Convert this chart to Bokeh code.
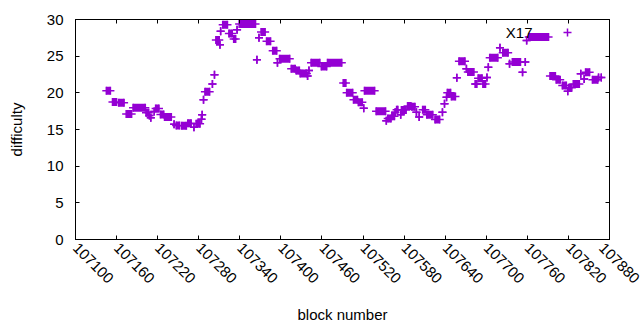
import math
from bokeh.plotting import figure
from bokeh.models import (Range1d, FixedTicker, LinearAxis, Legend, LegendItem, Label,
                          ColumnDataSource, BasicTickFormatter, CustomJSTickFormatter)
from bokeh.embed import file_html
from bokeh.resources import INLINE

# ---------------- data (runs of equal difficulty over consecutive blocks) ----------
run_start = [107145, 107154, 107163, 107174, 107184, 107203, 107208, 107210, 107215, 107217,
             107224, 107230, 107244, 107247, 107255, 107264, 107273, 107276, 107284, 107285,
             107287, 107289, 107300, 107303, 107305, 107311, 107312, 107315, 107324, 107331,
             107336, 107339, 107365, 107368, 107371, 107379, 107388, 107395, 107398, 107415,
             107422, 107428, 107439, 107441, 107444, 107459, 107468, 107491, 107496, 107506,
             107513, 107521, 107522, 107539, 107554, 107556, 107562, 107567, 107569, 107575,
             107576, 107585, 107591, 107598, 107602, 107607, 107613, 107625, 107636, 107639,
             107642, 107643, 107649, 107657, 107660, 107671, 107673, 107684, 107686, 107688,
             107695, 107701, 107703, 107705, 107720, 107724, 107734, 107738, 107753, 107757,
             107759, 107762, 107793, 107802, 107811, 107819, 107820, 107827, 107838, 107843,
             107845, 107855, 107864, 107868]
run_end = [107151, 107160, 107171, 107182, 107202, 107207, 107208, 107210, 107215, 107222,
           107229, 107240, 107244, 107252, 107262, 107269, 107273, 107282, 107284, 107285,
           107287, 107296, 107300, 107303, 107310, 107311, 107312, 107322, 107329, 107334,
           107336, 107363, 107365, 107368, 107377, 107385, 107394, 107395, 107413, 107421,
           107427, 107438, 107439, 107441, 107457, 107467, 107489, 107495, 107505, 107512,
           107519, 107521, 107537, 107553, 107554, 107561, 107566, 107567, 107571, 107575,
           107583, 107590, 107596, 107598, 107602, 107611, 107622, 107632, 107636, 107639,
           107642, 107648, 107655, 107657, 107669, 107671, 107682, 107684, 107686, 107694,
           107699, 107701, 107703, 107717, 107720, 107732, 107734, 107750, 107753, 107757,
           107759, 107791, 107801, 107808, 107817, 107819, 107825, 107836, 107838, 107843,
           107851, 107863, 107864, 107868]
run_difficulty = [20.3, 18.75, 18.65, 17.1, 17.95, 17.3, 16.9, 16.6, 17.45, 17.85,
                  17.05, 16.7, 15.7, 15.55, 15.5, 15.85, 15.3, 15.8, 16.4, 17.0,
                  19.05, 20.15, 21.2, 22.45, 27.2, 26.55, 28.4, 29.3, 28.1, 27.35,
                  28.6, 29.4, 24.5, 27.5, 28.3, 27.05, 25.75, 24.1, 24.65, 23.3,
                  23.05, 22.65, 22.3, 23.05, 24.1, 23.6, 24.1, 21.35, 20.0, 19.05,
                  18.7, 17.9, 20.3, 17.5, 16.2, 16.5, 16.8, 17.35, 17.7, 17.0,
                  17.65, 18.2, 18.1, 17.35, 16.7, 17.7, 17.0, 16.35, 17.35, 18.5,
                  19.4, 20.0, 19.5, 22.05, 24.3, 23.3, 22.85, 21.2, 21.2, 22.0,
                  21.2, 22.1, 23.5, 24.8, 26.15, 25.45, 23.95, 24.2, 22.8, 24.2,
                  27.15, 27.6, 22.3, 21.8, 21.0, 20.2, 20.7, 21.2, 22.6, 21.9,
                  22.8, 21.8, 22.1, 22.1]

series_name = "X17"
x_ticks = [107100, 107160, 107220, 107280, 107340, 107400, 107460,
           107520, 107580, 107640, 107700, 107760, 107820, 107880]
y_ticks = [0, 5, 10, 15, 20, 25, 30]
x_label = "block number"
y_label = "difficulty"

# ---------------- styling ----------------
COLOR = "#9400d3"
FONT = "Liberation Sans"
FS = "15px"

src = ColumnDataSource(dict(start=run_start, end=run_end, d=run_difficulty))

p = figure(width=640, height=330, output_backend="svg", toolbar_location=None,
           x_range=Range1d(x_ticks[0], x_ticks[-1]), y_range=Range1d(y_ticks[0], y_ticks[-1]),
           min_border_left=75, min_border_right=31, min_border_top=19, min_border_bottom=91)
p.background_fill_color = "white"
p.border_fill_color = "white"
p.outline_line_color = "black"
p.outline_line_width = 1
p.grid.visible = False

# solid part of each run (dense overlapping crosses)
p.segment(x0="start", y0="d", x1="end", y1="d", source=src,
          line_width=8, line_cap="butt", line_color=COLOR)
r1 = p.scatter(x="start", y="d", source=src, marker="cross", size=8,
               line_color=COLOR, line_width=1.5)
p.scatter(x="end", y="d", source=src, marker="cross", size=8,
          line_color=COLOR, line_width=1.5)

def style_axis(ax, ticks, labels=True):
    ax.ticker = FixedTicker(ticks=ticks)
    ax.major_tick_in = 4
    ax.major_tick_out = 0
    ax.minor_tick_line_color = None
    ax.axis_line_color = "black"
    ax.major_tick_line_color = "black"
    ax.major_label_text_font = FONT
    ax.major_label_text_color = "black"
    ax.axis_label_text_font = FONT
    ax.axis_label_text_font_style = "normal"
    ax.axis_label_text_color = "black"
    ax.axis_label_text_font_size = FS
    if labels:
        ax.major_label_text_font_size = FS
        ax.formatter = BasicTickFormatter(use_scientific=False)
    else:
        ax.formatter = CustomJSTickFormatter(code="return ''")
        ax.major_label_text_font_size = "1px"
        ax.major_label_standoff = 0

xa = p.xaxis[0]
style_axis(xa, x_ticks)
xa.major_label_orientation = -math.pi / 4
xa.major_label_standoff = 6
xa.axis_label = x_label
xa.axis_label_standoff = 15

ya = p.yaxis[0]
style_axis(ya, y_ticks)
ya.major_label_standoff = 12
ya.axis_label = y_label
ya.axis_label_standoff = 19

top = LinearAxis()
style_axis(top, x_ticks, labels=False)
p.add_layout(top, "above")
right = LinearAxis()
style_axis(right, y_ticks, labels=False)
p.add_layout(right, "right")

# gnuplot-style key: text first, then the sample to its right
legend = Legend(items=[LegendItem(label="", renderers=[r1])], location=(482, 197),
                padding=0, margin=0, spacing=0, label_standoff=0,
                glyph_width=20, glyph_height=20,
                background_fill_alpha=0, border_line_color=None,
                label_text_font=FONT, label_text_font_size=FS)
p.add_layout(legend)
p.add_layout(Label(x=457, y=207, x_units="screen", y_units="screen", text=series_name,
                   text_align="right", text_baseline="alphabetic", text_font=FONT,
                   text_font_size=FS, text_color="black"))

open("out.html", "w").write(file_html(p, INLINE))
